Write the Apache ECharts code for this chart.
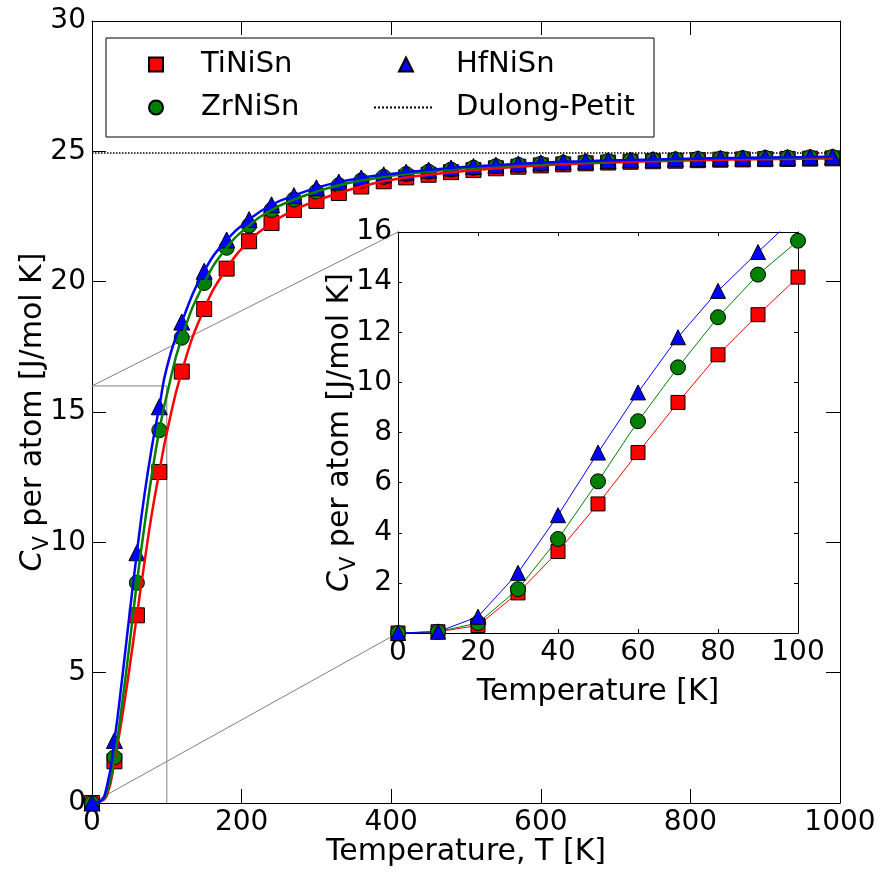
<!DOCTYPE html>
<html>
<head>
<meta charset="utf-8">
<script src="https://cdn.jsdelivr.net/npm/echarts@6/dist/echarts.min.js"></script>
<style>
  html, body { margin: 0; padding: 0; background: #fff; }
  #chart { width: 886px; height: 873px; }
</style>
</head>
<body>
<div id="chart"></div>
<script>
// Heat capacity per atom of half-Heusler compounds, 0-1000 K (main) and 0-100 K (inset)
const mainT = [0, 30, 60, 90, 120, 150, 180, 210, 240, 270, 300, 330, 360, 390, 420, 450, 480,
  510, 540, 570, 600, 630, 660, 690, 720, 750, 780, 810, 840, 870, 900, 930, 960, 990];
const mainTiNiSn = [0, 1.6, 7.2, 12.7, 16.55, 18.95, 20.5, 21.55, 22.25, 22.75, 23.1, 23.4, 23.65, 23.85,
  24.0, 24.1, 24.2, 24.28, 24.35, 24.41, 24.46, 24.5, 24.54, 24.57, 24.6, 24.62, 24.64, 24.66,
  24.68, 24.69, 24.7, 24.71, 24.72, 24.73];
const mainZrNiSn = [0, 1.75, 8.45, 14.3, 17.85, 19.95, 21.3, 22.15, 22.75, 23.15, 23.45, 23.7, 23.88, 24.02,
  24.13, 24.22, 24.3, 24.37, 24.43, 24.48, 24.52, 24.56, 24.59, 24.62, 24.65, 24.67, 24.69, 24.71,
  24.72, 24.74, 24.75, 24.76, 24.77, 24.78];
const mainHfNiSn = [0, 2.4, 9.6, 15.2, 18.45, 20.4, 21.6, 22.38, 22.95, 23.3, 23.6, 23.82, 23.98, 24.1,
  24.2, 24.28, 24.36, 24.42, 24.47, 24.52, 24.56, 24.6, 24.62, 24.65, 24.67, 24.69, 24.71, 24.72,
  24.74, 24.75, 24.76, 24.77, 24.78, 24.79];

const lowT = [0, 10, 20, 30, 40, 50, 60, 70, 80, 90, 100];
const lowTiNiSn = [0, 0.05, 0.3, 1.6, 3.25, 5.15, 7.2, 9.2, 11.1, 12.7, 14.2];
const lowZrNiSn = [0, 0.05, 0.4, 1.75, 3.75, 6.05, 8.45, 10.6, 12.6, 14.3, 15.65];
const lowHfNiSn = [0, 0.05, 0.65, 2.4, 4.7, 7.2, 9.6, 11.8, 13.65, 15.2, 16.7];

const dulongPetit = 24.94;          // 3R in J/(mol K)
const mainXTicks = { min: 0, max: 1000, interval: 200 };
const mainYTicks = { min: 0, max: 30, interval: 5 };
const insetXTicks = { min: 0, max: 100, interval: 20 };
const insetYTicks = { min: 0, max: 16, interval: 2 };

const FONT = 'DejaVu Sans';
const RED = '#ff0000', GREEN = '#008000', BLUE = '#0000ff';

function pairs(xs, ys) { return xs.map((x, i) => [x, ys[i]]); }
// fit curve: low-temperature points up to 100 K, then the coarse grid above
function fitCurve(lowY, mainY) {
  const lo = pairs(lowT, lowY);
  const hi = pairs(mainT, mainY).filter(p => p[0] > lowT[lowT.length - 1]);
  return lo.concat(hi);
}

const chart = echarts.init(document.getElementById('chart'), null, { renderer: 'canvas' });

const tickLabel = { fontFamily: FONT, fontSize: 28, color: '#000', formatter: v => String(v) };
const axisNameStyle = {
  fontFamily: FONT, fontSize: 30, color: '#000', lineHeight: 40,
  rich: {
    i: { fontFamily: FONT, fontSize: 30, fontStyle: 'italic', color: '#000', lineHeight: 40 },
    s: { fontFamily: FONT, fontSize: 21, color: '#000', lineHeight: 21, verticalAlign: 'bottom' }
  }
};
const blackLine = { show: true, onZero: false, lineStyle: { color: '#000', width: 1 } };

function valueAxis(base, extra) {
  return Object.assign({
    type: 'value', min: base.min, max: base.max, interval: base.interval,
    axisLine: blackLine, splitLine: { show: false }, nameMoveOverlap: false
  }, extra);
}
function frameAxis(base, gridIndex, position, tickLen) {
  return valueAxis(base, {
    gridIndex, position,
    axisTick: { show: true, inside: true, length: tickLen, lineStyle: { color: '#000' } },
    axisLabel: { show: false }
  });
}

const markerStyle = { borderColor: '#000', borderWidth: 1 };
const legendText = { fontFamily: FONT, fontSize: 29, color: '#000' };

const option = {
  animation: false,
  backgroundColor: '#fff',
  grid: [
    { left: 92, top: 21, width: 748, height: 782, containLabel: false, outerBoundsMode: 'none' },
    { left: 398, top: 232, width: 400, height: 401, containLabel: false, outerBoundsMode: 'none',
      show: true, backgroundColor: '#fff', borderWidth: 0, z: 5 }
  ],
  xAxis: [
    valueAxis(mainXTicks, {
      gridIndex: 0, position: 'bottom',
      axisTick: { show: true, inside: true, length: 14, lineStyle: { color: '#000' } },
      axisLabel: Object.assign({ margin: 6 }, tickLabel),
      name: 'Temperature, T [K]', nameLocation: 'middle', nameGap: 29, nameTextStyle: axisNameStyle
    }),
    frameAxis(mainXTicks, 0, 'top', 14),
    valueAxis(insetXTicks, {
      gridIndex: 1, position: 'bottom', z: 6,
      axisTick: { show: true, inside: true, length: 4, lineStyle: { color: '#000' } },
      axisLabel: Object.assign({ margin: 6 }, tickLabel),
      name: 'Temperature [K]', nameLocation: 'middle', nameGap: 39, nameTextStyle: axisNameStyle
    }),
    Object.assign(frameAxis(insetXTicks, 1, 'top', 4), { z: 6 })
  ],
  yAxis: [
    valueAxis(mainYTicks, {
      gridIndex: 0, position: 'left',
      axisTick: { show: true, inside: true, length: 14, lineStyle: { color: '#000' } },
      axisLabel: Object.assign({ margin: 6 }, tickLabel),
      name: '{i|C}{s|V} per atom [J/mol K]', nameLocation: 'middle', nameGap: 39,
      nameRotate: 90, nameTextStyle: axisNameStyle
    }),
    frameAxis(mainYTicks, 0, 'right', 14),
    valueAxis(insetYTicks, {
      gridIndex: 1, position: 'left', z: 6,
      axisTick: { show: true, inside: true, length: 4, lineStyle: { color: '#000' } },
      axisLabel: Object.assign({}, tickLabel, { margin: 6, formatter: v => (v === 0 ? '' : String(v)) }),
      name: '{i|C}{s|V} per atom [J/mol K]', nameLocation: 'middle', nameGap: 38,
      nameRotate: 90, nameTextStyle: axisNameStyle
    }),
    Object.assign(frameAxis(insetYTicks, 1, 'right', 4), { z: 6 })
  ],
  legend: [
    {
      data: ['TiNiSn', 'ZrNiSn'], orient: 'vertical', left: 143, top: 45,
      itemWidth: 14, itemHeight: 14, itemGap: 14, selectedMode: false, z: 10,
      textStyle: Object.assign({ padding: [0, 0, 0, 33] }, legendText)
    },
    {
      data: ['HfNiSn'], orient: 'vertical', left: 393, top: 45,
      itemWidth: 14, itemHeight: 14, selectedMode: false, z: 10,
      textStyle: Object.assign({ padding: [0, 0, 0, 38] }, legendText)
    },
    {
      data: [{ name: 'Dulong-Petit', itemStyle: { opacity: 0 } }], orient: 'vertical', left: 368, top: 88,
      itemWidth: 60, itemHeight: 14, selectedMode: false, z: 10,
      textStyle: Object.assign({ padding: [0, 0, 0, 17] }, legendText)
    }
  ],
  series: [
    // zoomed region outline on the main axes
    {
      name: 'zoom-box', type: 'line', xAxisIndex: 0, yAxisIndex: 0, silent: true, z: 1,
      symbol: 'none', lineStyle: { color: '#808080', width: 1 },
      data: [[insetXTicks.min, insetYTicks.max], [insetXTicks.max, insetYTicks.max], [insetXTicks.max, insetYTicks.min]]
    },
    {
      name: 'Dulong-Petit', type: 'line', xAxisIndex: 0, yAxisIndex: 0, symbol: 'none', z: 2,
      color: '#000', lineStyle: { color: '#000', width: 1.5, type: 'dotted' },
      data: [[mainXTicks.min, dulongPetit], [mainXTicks.max, dulongPetit]]
    },
    // main panel markers
    { name: 'TiNiSn', type: 'scatter', xAxisIndex: 0, yAxisIndex: 0, symbol: 'rect', symbolSize: 15, z: 3,
      itemStyle: Object.assign({ color: RED, opacity: 1 }, markerStyle), data: pairs(mainT, mainTiNiSn) },
    { name: 'ZrNiSn', type: 'scatter', xAxisIndex: 0, yAxisIndex: 0, symbol: 'circle', symbolSize: 15, z: 3,
      itemStyle: Object.assign({ color: GREEN, opacity: 1 }, markerStyle), data: pairs(mainT, mainZrNiSn) },
    { name: 'HfNiSn', type: 'scatter', xAxisIndex: 0, yAxisIndex: 0, symbol: 'triangle', symbolSize: 16, z: 3,
      itemStyle: Object.assign({ color: BLUE, opacity: 1 }, markerStyle), data: pairs(mainT, mainHfNiSn) },
    // main panel fit curves
    { name: 'TiNiSn fit', type: 'line', xAxisIndex: 0, yAxisIndex: 0, symbol: 'none', smooth: 0.5,
      z: 4, color: RED, lineStyle: { color: RED, width: 2.5 },
      data: fitCurve(lowTiNiSn, mainTiNiSn) },
    { name: 'ZrNiSn fit', type: 'line', xAxisIndex: 0, yAxisIndex: 0, symbol: 'none', smooth: 0.5,
      z: 4, color: GREEN, lineStyle: { color: GREEN, width: 2.5 },
      data: fitCurve(lowZrNiSn, mainZrNiSn) },
    { name: 'HfNiSn fit', type: 'line', xAxisIndex: 0, yAxisIndex: 0, symbol: 'none', smooth: 0.5,
      z: 4, color: BLUE, lineStyle: { color: BLUE, width: 2.5 },
      data: fitCurve(lowHfNiSn, mainHfNiSn) },
    // inset: low-temperature data
    { name: 'TiNiSn low', type: 'line', xAxisIndex: 2, yAxisIndex: 2, symbol: 'rect', symbolSize: 14,
      showAllSymbol: true, z: 7, color: RED, lineStyle: { color: RED, width: 1 },
      itemStyle: Object.assign({ color: RED }, markerStyle), data: pairs(lowT, lowTiNiSn) },
    { name: 'ZrNiSn low', type: 'line', xAxisIndex: 2, yAxisIndex: 2, symbol: 'circle', symbolSize: 15,
      showAllSymbol: true, z: 7, color: GREEN, lineStyle: { color: GREEN, width: 1 },
      itemStyle: Object.assign({ color: GREEN }, markerStyle), data: pairs(lowT, lowZrNiSn) },
    { name: 'HfNiSn low', type: 'line', xAxisIndex: 2, yAxisIndex: 2, symbol: 'triangle', symbolSize: 15,
      showAllSymbol: true, z: 7, color: BLUE, lineStyle: { color: BLUE, width: 1 },
      itemStyle: Object.assign({ color: BLUE }, markerStyle), data: pairs(lowT, lowHfNiSn) }
  ]
};

chart.setOption(option);

// legend frame and the connectors between the zoomed region and the inset corners
const mainTopLeft = chart.convertToPixel({ gridIndex: 0 }, [insetXTicks.min, insetYTicks.max]);
const mainBottomLeft = chart.convertToPixel({ gridIndex: 0 }, [insetXTicks.min, insetYTicks.min]);
const insetTopLeft = chart.convertToPixel({ gridIndex: 1 }, [insetXTicks.min, insetYTicks.max]);
const insetBottomLeft = chart.convertToPixel({ gridIndex: 1 }, [insetXTicks.min, insetYTicks.min]);

chart.setOption({
  graphic: [
    {
      type: 'rect', z: 9, silent: true,
      shape: { x: 106, y: 38, width: 548, height: 99 },
      style: { fill: '#fff', stroke: '#000', lineWidth: 1 }
    },
    {
      type: 'line', z: 1, silent: true,
      shape: { x1: mainTopLeft[0], y1: mainTopLeft[1], x2: insetTopLeft[0], y2: insetTopLeft[1] },
      style: { stroke: '#808080', lineWidth: 1 }
    },
    {
      type: 'line', z: 1, silent: true,
      shape: { x1: mainBottomLeft[0], y1: mainBottomLeft[1], x2: insetBottomLeft[0], y2: insetBottomLeft[1] },
      style: { stroke: '#808080', lineWidth: 1 }
    }
  ]
});
</script>
</body>
</html>
